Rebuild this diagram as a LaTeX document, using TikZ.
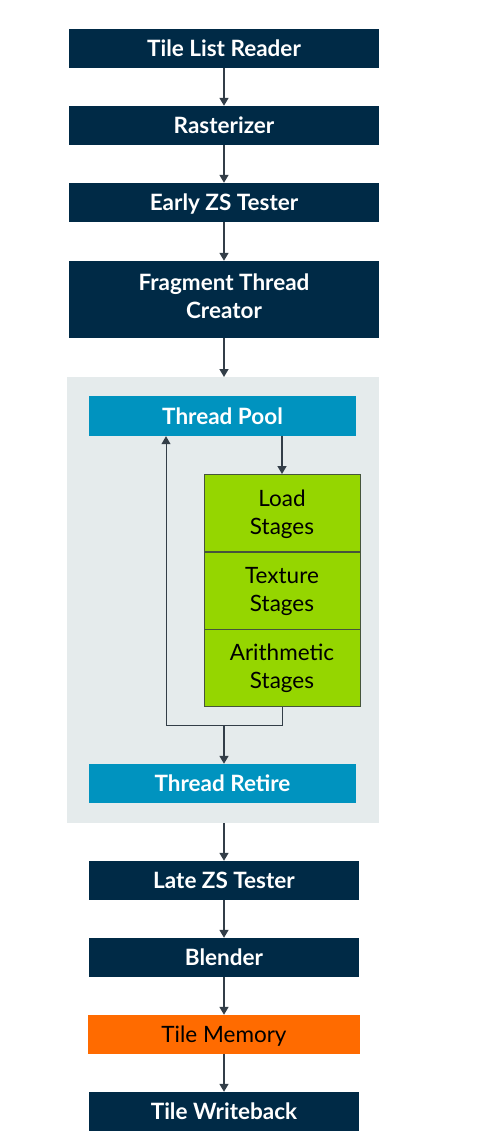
\documentclass[tikz,border=0pt]{standalone}
\usepackage{fontspec}
\setmainfont{Lato}
\usetikzlibrary{arrows.meta}
\definecolor{navy}{RGB}{0,42,70}
\definecolor{tealblue}{RGB}{0,147,191}
\definecolor{limegreen}{RGB}{149,214,0}
\definecolor{armorange}{RGB}{255,107,0}
\definecolor{panelgray}{RGB}{229,235,236}
\definecolor{arrowgray}{RGB}{51,62,72}
\definecolor{greenborder}{RGB}{70,85,60}
\tikzset{
  box/.style={rectangle, inner sep=0pt, minimum width=310pt, minimum height=39pt, fill=navy, text=white, font=\fontsize{22.5}{25}\selectfont\bfseries, text height=16.2pt, text depth=0pt},
  bluebox/.style={box, fill=tealblue, minimum width=267pt, minimum height=40pt},
  stagebox/.style={rectangle, inner sep=0pt, minimum width=156pt, minimum height=77pt, fill=limegreen, draw=greenborder, line width=1pt},
  stagetext/.style={anchor=base, inner sep=0pt, text=black, font=\fontsize{22.5}{25}\selectfont},
  boldtext/.style={anchor=base, inner sep=0pt, text=white, font=\fontsize{22.5}{25}\selectfont\bfseries},
  flow/.style={draw=arrowgray, line width=1.5pt, -{Triangle[width=9pt,length=8pt]}},
  loopline/.style={draw=arrowgray, line width=1pt},
}
\begin{document}
\begin{tikzpicture}[x=1pt,y=-1pt]
\useasboundingbox (0,0) rectangle (485,1132);
\fill[panelgray] (67,377) rectangle (379,823);
\coordinate (panelTop) at (224,377);
\coordinate (panelBot) at (224,823);
\node[box] (tlr) at (224,48.5) {Tile List Reader};
\node[box] (ras) at (224,125.5) {Rasterizer};
\node[box] (ezs) at (224,202.5) {Early ZS Tester};
\node[box, minimum height=77pt] (ftc) at (224,299.5) {};
\node[boldtext] (ftc1) at ([yshift=9.5pt]ftc.center) {Fragment Thread};
\node[boldtext] (ftc2) at ([yshift=-18.8pt]ftc.center) {Creator};
\node[bluebox] (tp) at (222.5,416) {Thread Pool};
\node[stagebox] (load) at (282,513) {};
\node[stagebox] (tex) at (282,590.5) {};
\node[stagebox] (ari) at (282,667.5) {};
\node[stagetext] (load1) at ([yshift=7pt]load.center) {Load};
\node[stagetext] (load2) at ([yshift=-21.3pt]load.center) {Stages};
\node[stagetext] (tex1) at ([yshift=7pt]tex.center) {Texture};
\node[stagetext] (tex2) at ([yshift=-21.3pt]tex.center) {Stages};
\node[stagetext] (ari1) at ([yshift=7pt]ari.center) {Arithmetic};
\node[stagetext] (ari2) at ([yshift=-21.3pt]ari.center) {Stages};
\node[bluebox, minimum height=39pt] (tr) at (222.5,783.5) {Thread Retire};
\node[box, minimum width=270pt] (lzs) at (224,880.5) {Late ZS Tester};
\node[box, minimum width=270pt] (bl) at (224,957.5) {Blender};
\node[box, minimum width=272pt, fill=armorange, text=black, font=\fontsize{22.5}{25}\selectfont] (tm) at (224,1034.5) {Tile Memory};
\node[box, minimum width=270pt] (tw) at (224,1111.5) {Tile Writeback};
\coordinate (join) at (224,725);
\coordinate (loopR) at (282,725);
\coordinate (loopL) at (166,725);
\draw[flow] (tlr) -- (ras);
\draw[flow] (ras) -- (ezs);
\draw[flow] (ezs) -- (ftc);
\draw[flow] (ftc) -- (panelTop);
\draw[flow] (load.north |- tp.south) -- (load.north);
\draw[loopline] (ari.south) -- (loopR) -- (loopL);
\draw[loopline, -{Triangle[width=9pt,length=8pt]}] (loopL) -- (loopL |- tp.south);
\draw[flow] (join) -- (tr.north -| join);
\draw[flow] (panelBot) -- (lzs);
\draw[flow] (lzs) -- (bl);
\draw[flow] (bl) -- (tm);
\draw[flow] (tm) -- (tw);
\end{tikzpicture}
\end{document}
